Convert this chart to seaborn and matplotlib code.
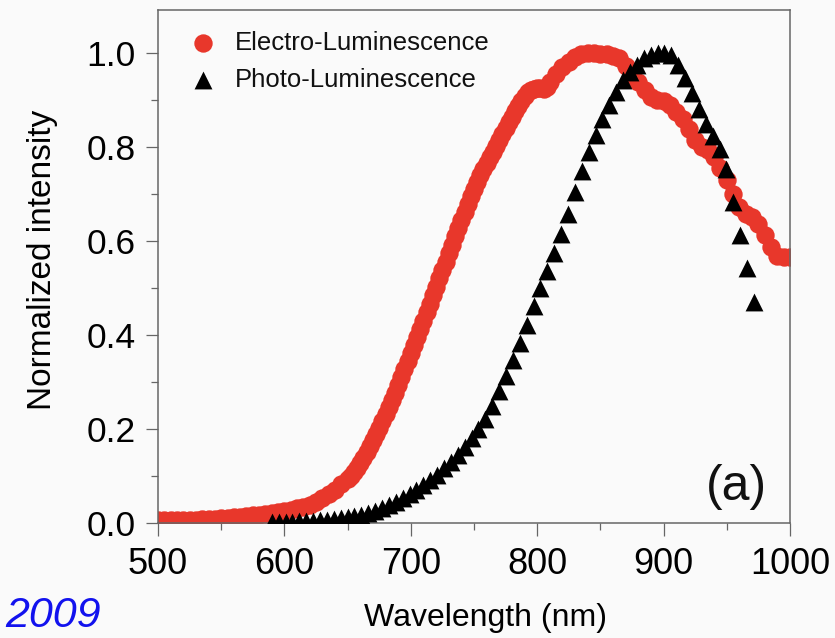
import numpy as np
import pandas as pd
import matplotlib
matplotlib.use("Agg")
import matplotlib.pyplot as plt
from matplotlib import font_manager as fm
from matplotlib.ticker import MultipleLocator
import seaborn as sns

# ---------------- data ----------------
el_wavelength = [
    500, 505, 510, 515, 520, 525, 530, 535, 540, 545, 550, 555, 560, 565, 570,
    575, 580, 585, 590, 595, 600, 605, 610, 615, 620, 625, 630, 635, 640, 645, 650,
    652.5, 655, 657.5, 660, 662.5, 665, 667.5, 670, 672.5, 675, 677.5, 680,
    682.5, 685, 687.5, 690, 692.5, 695, 697.5, 700, 702.5, 705, 707.5, 710,
    712.5, 715, 717.5, 720, 722.5, 725, 727.5, 730, 732.5, 735, 737.5, 740,
    742.5, 745, 747.5, 750, 752.5, 755, 757.5, 760, 762.5, 765, 767.5, 770,
    772.5, 775, 777.5, 780, 782.5, 785, 787.5, 790, 792.5, 795, 797.5, 800,
    802.5, 805, 807.5, 810,
    815, 820, 825, 830, 835, 840, 845, 850, 855, 860, 865, 870, 875, 880, 885,
    890, 895, 900, 905, 910, 915, 920, 925, 930, 935, 940, 945, 950, 955, 960,
    965, 970, 975, 980, 985, 990, 995, 1000,
]
el_intensity = [
    0.006, 0.006, 0.006, 0.006, 0.007, 0.007, 0.007, 0.008, 0.008, 0.009, 0.010,
    0.011, 0.012, 0.013, 0.014, 0.016, 0.018, 0.019, 0.021, 0.023, 0.025, 0.028,
    0.031, 0.034, 0.038, 0.045, 0.053, 0.062, 0.071, 0.082, 0.094,
    0.101, 0.109, 0.118, 0.128, 0.139, 0.151, 0.163, 0.176, 0.189, 0.203, 0.217,
    0.231, 0.246, 0.261, 0.277, 0.293, 0.310, 0.327, 0.344, 0.361, 0.379, 0.396,
    0.413, 0.430, 0.448, 0.466, 0.484, 0.502, 0.520, 0.538, 0.556, 0.574, 0.592,
    0.610, 0.627, 0.644, 0.661, 0.678, 0.695, 0.711, 0.726, 0.740, 0.753, 0.766,
    0.778, 0.790, 0.801, 0.814, 0.827, 0.840, 0.852, 0.864, 0.876, 0.887, 0.898,
    0.908, 0.916, 0.921, 0.924, 0.926, 0.925, 0.924, 0.928, 0.937,
    0.955, 0.970, 0.980, 0.990, 0.997, 1.000, 1.000, 0.998, 0.997, 0.993, 0.988,
    0.972, 0.953, 0.937, 0.920, 0.906, 0.900, 0.898, 0.888, 0.875, 0.860, 0.838,
    0.815, 0.800, 0.793, 0.778, 0.755, 0.730, 0.700, 0.672, 0.657, 0.650, 0.636,
    0.612, 0.586, 0.568, 0.565, 0.565,
]

pl_wavelength = [
    590.0, 595.5, 600.9, 606.4, 611.8, 617.3, 622.7, 628.2, 633.6, 639.1,
    644.5, 650.0, 655.4, 660.9, 666.3, 671.8, 677.2, 682.7, 688.1, 693.6,
    699.0, 704.5, 709.9, 715.4, 720.8, 726.3, 731.7, 737.2, 742.6, 748.1,
    753.5, 759.0, 764.4, 769.9, 775.3, 780.8, 786.2, 791.7, 797.1, 802.6,
    808.0, 813.5, 818.9, 824.4, 829.8, 835.3, 840.7, 846.2, 851.6, 857.1,
    862.5, 868.0, 873.4, 878.9, 884.3, 889.8, 895.2, 900.7, 906.1, 911.6,
    917.0, 922.5, 927.9, 933.4, 938.8, 944.3, 949.7, 955.2, 960.6, 966.1,
    971.5,
]
pl_intensity = [
    0.002, 0.002, 0.003, 0.003, 0.004, 0.004, 0.005, 0.006, 0.007, 0.008,
    0.010, 0.012, 0.014, 0.017, 0.021, 0.026, 0.032, 0.038, 0.045, 0.053,
    0.061, 0.070, 0.080, 0.091, 0.103, 0.116, 0.130, 0.145, 0.162, 0.180,
    0.199, 0.222, 0.249, 0.280, 0.312, 0.346, 0.383, 0.422, 0.461, 0.499,
    0.536, 0.574, 0.614, 0.658, 0.704, 0.748, 0.788, 0.825, 0.860, 0.890,
    0.917, 0.942, 0.960, 0.975, 0.988, 0.996, 1.000, 1.000, 0.995, 0.975,
    0.947, 0.915, 0.880, 0.848, 0.822, 0.795, 0.752, 0.683, 0.613, 0.543,
    0.470,
]

series_labels = ["Electro-Luminescence", "Photo-Luminescence"]
x_label = "Wavelength (nm)"
y_label = "Normalized intensity"
panel_label = "(a)"
year_label = "2009"
x_ticks = [500, 600, 700, 800, 900, 1000]
y_ticks = [0.0, 0.2, 0.4, 0.6, 0.8, 1.0]

assert len(el_wavelength) == len(el_intensity)
assert len(pl_wavelength) == len(pl_intensity)

el_df = pd.DataFrame({"wavelength": el_wavelength, "intensity": el_intensity})
pl_df = pd.DataFrame({"wavelength": pl_wavelength, "intensity": pl_intensity})

# ---------------- style ----------------
sns.set_theme(style="ticks")
names = {f.name for f in fm.fontManager.ttflist}
REG = "Liberation Sans" if "Liberation Sans" in names else "DejaVu Sans"
plt.rcParams["font.family"] = [REG, "DejaVu Sans"]

BG = "#fafafa"
RED = "#e8372b"
SPINE = "#666666"

fig = plt.figure(figsize=(8.35, 6.38), dpi=100, facecolor=BG)
ax = fig.add_axes([158 / 835, 1 - 523 / 638, 632 / 835, 513 / 638])
ax.set_facecolor(BG)

sns.scatterplot(data=el_df, x="wavelength", y="intensity", ax=ax,
                marker="o", s=175, color=RED, linewidth=0,
                label=series_labels[0], zorder=2)
sns.scatterplot(data=pl_df, x="wavelength", y="intensity", ax=ax,
                marker="^", s=165, color="black", linewidth=0,
                label=series_labels[1], zorder=3)

ax.set_xlim(500, 1000)
ax.set_ylim(0, 1.091)
ax.set_xticks(x_ticks)
ax.set_yticks(y_ticks)
ax.set_xticklabels([str(v) for v in x_ticks], fontsize=26)
ax.set_yticklabels([f"{v:.1f}" for v in y_ticks], fontsize=25.5)
ax.xaxis.set_minor_locator(MultipleLocator(50))
ax.yaxis.set_minor_locator(MultipleLocator(0.1))
ax.tick_params(which="major", direction="out", length=9, width=0.9,
               color=SPINE, labelcolor="black")
ax.tick_params(which="minor", direction="out", length=4.7, width=0.9,
               color=SPINE)
ax.tick_params(axis="x", which="major", pad=8.5)
ax.tick_params(axis="y", which="major", pad=7)
ax.tick_params(top=False, right=False, which="both")
for sp in ax.spines.values():
    sp.set_visible(True)
    sp.set_color(SPINE)
    sp.set_linewidth(1.1)

ax.set_xlabel(x_label, fontsize=23, color="black")
ax.set_ylabel(y_label, fontsize=24, color="black")
ax.xaxis.set_label_coords((485 - 158) / 632, (523 - 603) / 513)
ax.yaxis.set_label_coords((58 - 158) / 632, (523 - 260) / 513)

leg = ax.legend(loc="upper left", bbox_to_anchor=(0.034, 0.979),
                frameon=False, fontsize=18.5, handlelength=1.0,
                handletextpad=0.75, labelspacing=0.5, borderaxespad=0,
                markerscale=1.0)
for t in leg.get_texts():
    t.set_color("#111111")

ax.text((736 - 158) / 632, (523 - 487) / 513, panel_label,
        transform=ax.transAxes, ha="center", va="center", fontsize=36,
        color="#111111")

fig.text(5 / 835, (638 - 627) / 638, year_label, ha="left", va="baseline",
         fontsize=31, style="italic", color="#1212ee")

fig.savefig("out.png", dpi=100, facecolor=BG)
